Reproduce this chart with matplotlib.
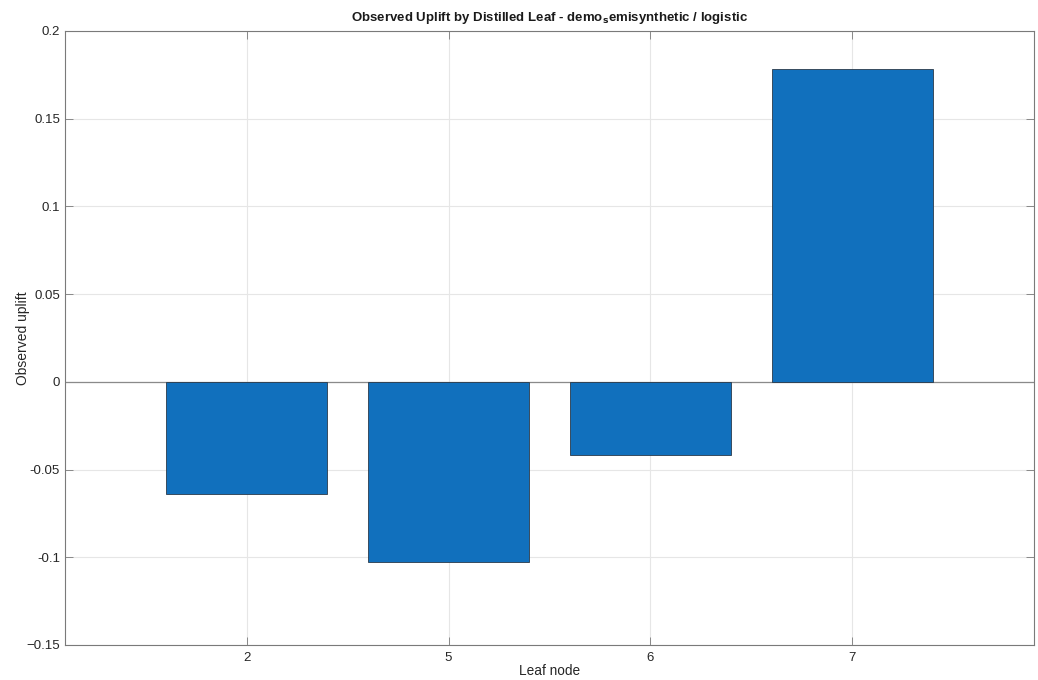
import matplotlib.pyplot as plt
import numpy as np

plt.rcParams['font.family'] = ['Liberation Sans', 'DejaVu Sans']

# leaf ids and observed uplift per leaf
leaves = ['2', '5', '6', '7']
uplift = [-0.0638, -0.1026, -0.0416, 0.1784]
yticks = [-0.15, -0.1, -0.05, 0, 0.05, 0.1, 0.15, 0.2]
ytick_labels = ['\u22120.15', '-0.1', '-0.05', '0', '0.05', '0.1', '0.15', '0.2']

AX_COLOR = '#7a7a7a'

fig = plt.figure(figsize=(10.38, 6.8), dpi=100)
ax = fig.add_axes([0.0626, 0.0515, 0.9335, 0.903])

x = np.arange(1, len(leaves) + 1)
ax.bar(x, uplift, width=0.8, color='#1170bd', edgecolor='#2a3a4a', linewidth=0.6, zorder=3)
ax.axhline(0, color='#8a8a8a', linewidth=0.9, zorder=2)

ax.set_xlim(0.1, 4.9)
ax.set_ylim(-0.15, 0.2)
ax.set_xticks(x)
ax.set_xticklabels(leaves)
ax.set_yticks(yticks)
ax.set_yticklabels(ytick_labels)

ax.grid(True, color='#e6e6e6', linewidth=0.8, zorder=0)
ax.set_axisbelow(True)
ax.tick_params(direction='in', length=6, width=0.6, color=AX_COLOR,
               labelsize=9.5, labelcolor='#262626', top=True, right=True)
ax.tick_params(axis='x', pad=5)
for s in ax.spines.values():
    s.set_color(AX_COLOR)
    s.set_linewidth(0.8)

ax.set_xlabel('Leaf node', fontsize=9.8, color='#262626', labelpad=0)
ax.set_ylabel('Observed uplift', fontsize=10, color='#262626')
ax.yaxis.set_label_coords(-0.036, 0.5)
ax.set_title(r'Observed Uplift by Distilled Leaf - demo$_\mathbf{s}$emisynthetic / logistic',
             fontsize=9.5, fontweight='bold', color='#1a1a1a', pad=7)

fig.savefig('out.png', dpi=100)
